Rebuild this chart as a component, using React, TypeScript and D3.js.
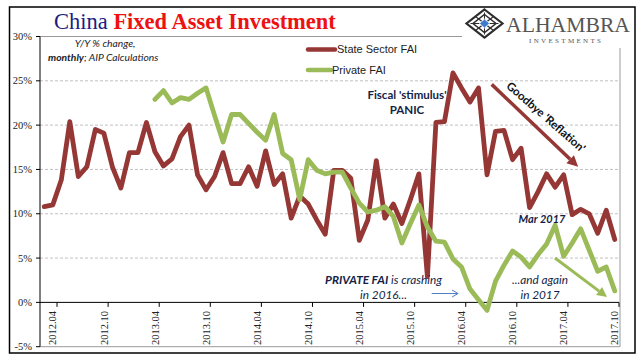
import * as d3 from 'd3';
import React from 'react';

// monthly categories, 2012.03 .. 2017.10
const months: string[] = d3.timeMonth
  .range(new Date(2012, 2, 1), new Date(2017, 10, 1))
  .map(d => d3.timeFormat('%Y.%m')(d));

const tickLabels = ['2012.04', '2012.10', '2013.04', '2013.10', '2014.04', '2014.10',
  '2015.04', '2015.10', '2016.04', '2016.10', '2017.04', '2017.10'];

const yTicks = [-5, 0, 5, 10, 15, 20, 25, 30];

// State Sector FAI, Y/Y %
const stateFAI = [
  10.8, 11.0, 13.8, 20.4, 14.2, 15.3, 19.5, 19.1, 15.3, 12.9, 16.9, 16.9,
  20.3, 17.0, 15.4, 16.2, 18.7, 20.0, 14.4, 12.7, 14.2, 16.9, 13.4, 13.4,
  15.3, 13.1, 17.1, 13.3, 14.5, 9.5, 12.0, 11.1, 9.3, 7.7, 14.9, 14.9,
  14.0, 7.0, 9.3, 16.0, 9.5, 11.1, 8.9, 11.6, 14.5, 2.9, 20.3, 20.4,
  25.9, 24.2, 22.6, 24.2, 14.4, 19.3, 19.4, 16.1, 17.4, 10.7, 12.5, 14.5,
  13.0, 14.4, 9.9, 10.5, 10.0, 7.8, 10.4, 7.1,
];

// Private FAI, Y/Y % (series starts 2013.04)
const privateFAI: (number | null)[] = [
  null, null, null, null, null, null, null, null, null, null, null, null, null,
  22.9, 23.9, 22.5, 23.1, 22.9, 23.6, 24.2, 21.1, 18.1, 21.2, 21.2,
  20.2, 19.2, 18.3, 21.2, 16.8, 16.1, 11.6, 16.1, 14.9, 14.5, 14.7, 14.7,
  12.9, 11.2, 10.2, 10.4, 10.8, 9.7, 6.7, 8.9, 11.0, 8.5, 6.9, 6.8,
  4.9, 4.0, 1.5, 0.3, -0.9, 2.4, 4.2, 5.8, 5.1, 4.0, 5.4, 6.6,
  8.7, 5.2, 6.7, 8.3, 5.9, 3.5, 4.0, 1.3,
];

const RED = '#953735';
const GREEN = '#9BBB59';
const NAVY = '#141E46';
const SANS = 'Lato, "Open Sans", sans-serif';
const SERIF = '"Liberation Serif", "DejaVu Serif", serif';

const W = 641, H = 361;
const plot = { left: 40, right: 619, top: 36.5, bottom: 346.7 };

export default function App() {
  const x = d3.scaleBand<string>().domain(months).range([plot.left, plot.right]).padding(0);
  const y = d3.scaleLinear().domain([-5, 30]).range([plot.bottom, plot.top]);
  const bw = x.bandwidth();
  // position by (fractional) month index, for annotations
  const at = (i: number) => plot.left + (i + 0.5) * bw;

  const line = d3.line<number | null>()
    .defined(d => d != null)
    .x((_, i) => (x(months[i]) as number) + bw / 2)
    .y(d => y(d as number));

  const arrow = (x1: number, y1: number, x2: number, y2: number, color: string, w: number, head: number) => {
    const a = Math.atan2(y2 - y1, x2 - x1);
    const bx = x2 - Math.cos(a) * head, by = y2 - Math.sin(a) * head;
    const px = -Math.sin(a) * head * 0.5, py = Math.cos(a) * head * 0.5;
    return (
      <g>
        <line x1={x1} y1={y1} x2={bx} y2={by} stroke={color} strokeWidth={w} />
        <polygon points={`${x2},${y2} ${bx + px},${by + py} ${bx - px},${by - py}`} fill={color} />
      </g>
    );
  };

  const redA = [at(52.55), y(24.6), at(62.7), y(15.3)];
  const greenA = [at(59.98), y(5.0), at(66.1), y(0.6)];
  const blueA = [at(45.5), y(1.0), at(48.6), y(1.0)];

  return (
    <svg width={W} height={H} style={{ position: 'absolute', left: 0, top: 0, background: '#fff' }}>
      <rect x={0} y={0} width={W} height={H} fill="#fff" />
      <rect x={9.5} y={7} width={625.5} height={346} fill="none" stroke="#000" strokeWidth={1.5} />

      {/* gridlines */}
      {yTicks.filter(v => v > 0 && v < 30).map(v => (
        <line key={v} x1={plot.left} x2={plot.right} y1={y(v)} y2={y(v)}
          stroke="#b0b0b0" strokeWidth={0.8} strokeDasharray="3,2" />
      ))}
      {/* plot frame */}
      <line x1={plot.left} x2={plot.right + 1} y1={y(30)} y2={y(30)} stroke="#9a9a9a" strokeWidth={1} />
      <line x1={plot.right + 1} x2={plot.right + 1} y1={y(30)} y2={y(-5)} stroke="#9a9a9a" strokeWidth={1} />
      <line x1={plot.left} x2={plot.right + 1} y1={y(-5)} y2={y(-5)} stroke="#9a9a9a" strokeWidth={1} />

      {/* y axis */}
      <line x1={plot.left} x2={plot.left} y1={y(30)} y2={y(-5)} stroke="#000" strokeWidth={1} />
      {yTicks.map(v => (
        <g key={v}>
          <line x1={plot.left - 4} x2={plot.left} y1={y(v)} y2={y(v)} stroke="#000" strokeWidth={1} />
          <text x={32} y={y(v)} dy="0.35em" textAnchor="end" fontFamily={SERIF} fontSize={10.5} fill="#222">{v}%</text>
        </g>
      ))}

      {/* x axis at 0% */}
      <line x1={plot.left} x2={plot.right} y1={y(0)} y2={y(0)} stroke="#000" strokeWidth={1} />
      {tickLabels.map(m => {
        const bx = (x(m) as number);
        const cx = bx + bw / 2;
        return (
          <g key={m}>
            <line x1={bx + bw} x2={bx + bw} y1={y(0)} y2={y(0) + 4.5} stroke="#000" strokeWidth={1} />
            <text transform={`translate(${cx + 3.7},${y(0) + 8.5}) rotate(-90)`} textAnchor="end"
              fontFamily={SERIF} fontSize={10.5} fill="#222">{m}</text>
          </g>
        );
      })}

      {/* series */}
      <path d={line(stateFAI) as string} fill="none" stroke={RED} strokeWidth={4.8} strokeLinejoin="round" strokeLinecap="round" />
      <path d={line(privateFAI) as string} fill="none" stroke={GREEN} strokeWidth={4.8} strokeLinejoin="round" strokeLinecap="round" />

      {/* legend */}
      <line x1={308} x2={335} y1={49.5} y2={49.5} stroke={RED} strokeWidth={4.5} strokeLinecap="round" />
      <text x={337} y={49.5} dy="0.35em" fontFamily='"Liberation Sans", Arial, sans-serif' fontSize={11} fill="#222">State Sector FAI</text>
      <line x1={308} x2={331} y1={70} y2={70} stroke={GREEN} strokeWidth={4.5} strokeLinecap="round" />
      <text x={332} y={70} dy="0.35em" fontFamily='"Liberation Sans", Arial, sans-serif' fontSize={11} fill="#222">Private FAI</text>

      {/* title */}
      <text x={54} y={28.5} fontFamily={SERIF} fontSize={22.5}>
        <tspan fill="#1c1c80">China </tspan>
        <tspan fill="#ee1111" fontWeight="bold">Fixed Asset Investment</tspan>
      </text>
      <text x={105} y={46.7} textAnchor="middle" fontFamily={SANS} fontStyle="italic" fontSize={10.3} fill="#1a1a2a">Y/Y % change,</text>
      <text x={48} y={60.7} fontFamily={SANS} fontStyle="italic" fontSize={10.3} fill="#1a1a2a">
        <tspan fontWeight="bold">monthly</tspan>; AIP Calculations
      </text>

      {/* logo */}
      <rect x={462} y={8} width={171} height={40} fill="#fff" />
      <g transform="translate(484.5,23.5)">
        <polygon points="0,-14 18,0 0,14 -18,0" fill="none" stroke="#2e2e2e" strokeWidth={2.2} />
        <polygon points="0,-9 11.5,0 0,9 -11.5,0" fill="none" stroke="#2e2e2e" strokeWidth={1.5} />
        <line x1={-9} y1={-7} x2={9} y2={7} stroke="#2e2e2e" strokeWidth={1.2} />
        <line x1={9} y1={-7} x2={-9} y2={7} stroke="#2e2e2e" strokeWidth={1.2} />
        <line x1={-14} y1={0} x2={14} y2={0} stroke="#2e2e2e" strokeWidth={1} />
        <line x1={0} y1={-11} x2={0} y2={11} stroke="#2e2e2e" strokeWidth={1} />
        <polygon points="0,-4.5 5,0 0,4.5 -5,0" fill="#3d7cc9" stroke="#fff" strokeWidth={0.8} />
      </g>
      <text x={506} y={31.5} fontFamily={SERIF} fontSize={22} fill="#555" textLength={124} lengthAdjust="spacingAndGlyphs">ALHAMBRA</text>
      <text x={529} y={43} fontFamily={SERIF} fontSize={7} fill="#555" textLength={72} lengthAdjust="spacing">INVESTMENTS</text>

      {/* annotations */}
      <text x={407} y={99.3} textAnchor="middle" fontFamily={SANS} fontWeight="bold" fontSize={11.5} fill={NAVY}>Fiscal 'stimulus'</text>
      <text x={407} y={114} textAnchor="middle" fontFamily={SANS} fontWeight="bold" fontSize={11.5} fill={NAVY}>PANIC</text>

      {arrow(redA[0], redA[1], redA[2], redA[3], RED, 3.5, 11)}
      <text transform="translate(546,117) rotate(41)" textAnchor="middle" dy="0.35em" fontFamily={SANS}
        fontWeight="bold" fontSize={11.5} fill="#111">Goodbye 'Reflation'</text>

      <text x={542} y={222.7} textAnchor="middle" fontFamily={SANS} fontWeight="bold" fontStyle="italic" fontSize={11} fill={NAVY}>Mar 2017</text>

      <text x={383.5} y={284} textAnchor="middle" fontFamily={SANS} fontStyle="italic" fontSize={11.8} fill={NAVY}>
        <tspan fontWeight="bold">PRIVATE FAI</tspan> is crashing
      </text>
      <text x={383.5} y={299.3} textAnchor="middle" fontFamily={SANS} fontStyle="italic" fontSize={11.8} fill={NAVY}>in 2016...</text>
      <line x1={blueA[0]} y1={blueA[1]} x2={blueA[2]} y2={blueA[3]} stroke="#4F81BD" strokeWidth={1} />
      <polyline points={`${blueA[2] - 6},${blueA[3] - 3.5} ${blueA[2]},${blueA[3]} ${blueA[2] - 6},${blueA[3] + 3.5}`}
        fill="none" stroke="#4F81BD" strokeWidth={1} />

      <text x={540} y={284} textAnchor="middle" fontFamily={SANS} fontStyle="italic" fontSize={11.8} fill={NAVY}>...and again</text>
      <text x={540} y={299.3} textAnchor="middle" fontFamily={SANS} fontStyle="italic" fontSize={11.8} fill={NAVY}>in 2017</text>
      {arrow(greenA[0], greenA[1], greenA[2], greenA[3], GREEN, 3, 10)}
    </svg>
  );
}
